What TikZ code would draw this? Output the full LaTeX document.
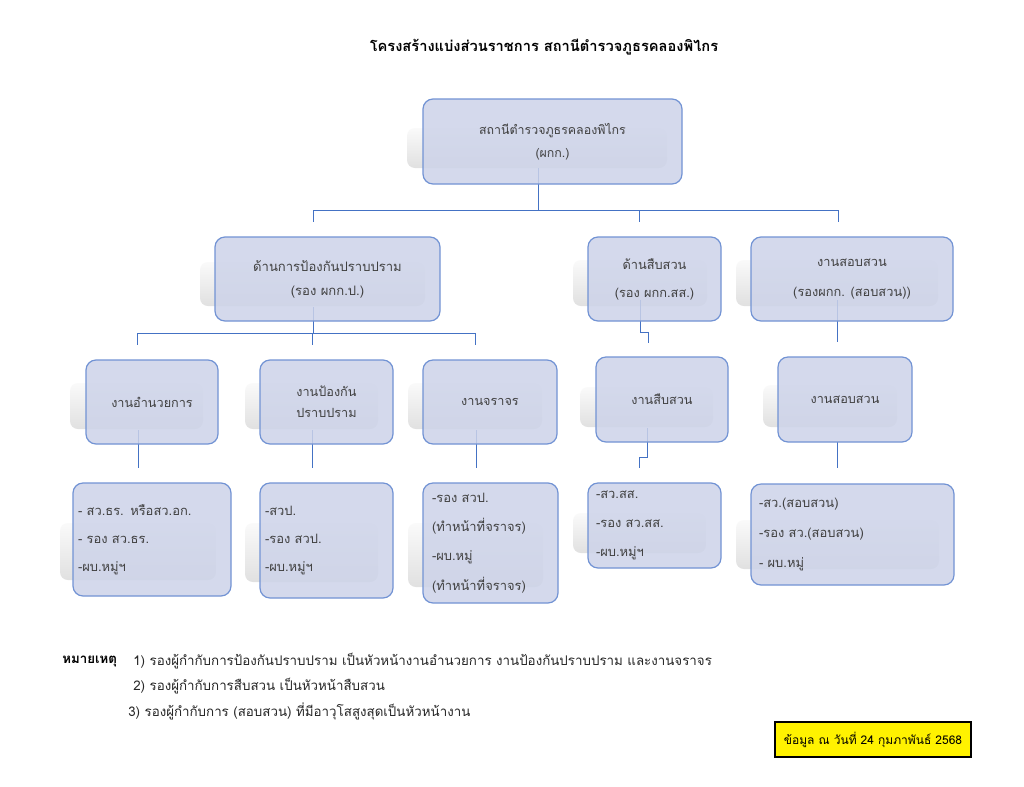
\documentclass[tikz,border=0pt]{standalone}
\usepackage{fontspec}
\setmainfont[Script=Thai]{Loma}
\begin{document}
\begin{tikzpicture}[x=0.75pt,y=-0.75pt]
\definecolor{boxfill}{RGB}{205,211,233}
\definecolor{boxline}{RGB}{114,147,212}
\definecolor{connc}{RGB}{68,114,196}
\definecolor{txt}{RGB}{64,64,64}
\tikzset{
  bx/.style 2 args={minimum width=#1*0.75pt, minimum height=#2*0.75pt},
  orgbox/.style={draw=boxline, line width=0.9pt, fill=boxfill, fill opacity=0.85, text opacity=1, draw opacity=1, rounded corners=7.5pt, text=txt, align=center, inner sep=0pt},
  lbox/.style={orgbox, align=left, inner xsep=#1*0.75pt},
  conn/.style={draw=connc, line width=0.7pt},
  shd/.style={top color=black!2, bottom color=black!12, rounded corners=6pt},
  tnorm/.style={font=\fontsize{9.5}{21}\selectfont},
}
\useasboundingbox (0,0) rectangle (1024,786);
\fill[white] (0,0) rectangle (1024,786);

% shadows
\shade[shd] (407,128) rectangle (667,168);
\shade[shd] (200,262) rectangle (425,306);
\shade[shd] (573,260) rectangle (707,306);
\shade[shd] (736,260) rectangle (938,306);
\shade[shd] (70,383) rectangle (203,429);
\shade[shd] (245,383) rectangle (378,429);
\shade[shd] (408,383) rectangle (542,429);
\shade[shd] (580,387) rectangle (713,427);
\shade[shd] (763,385) rectangle (897,427);
\shade[shd] (60,523) rectangle (216,580);
\shade[shd] (245,523) rectangle (378,582);
\shade[shd] (408,523) rectangle (543,587);
\shade[shd] (573,513) rectangle (706,553);
\shade[shd] (736,520) rectangle (939,569);

% junction coordinates
\coordinate (t0) at (538,168);  \coordinate (t1) at (538,210);
\coordinate (hL) at (313,210);  \coordinate (hR) at (838,210);
\coordinate (dA) at (313,222);  \coordinate (dB) at (639,222);  \coordinate (dC) at (838,222);
\coordinate (hB) at (639,210);
\coordinate (a0) at (313,307);  \coordinate (a1) at (313,333);
\coordinate (aL) at (137,333);  \coordinate (aR) at (475,333);  \coordinate (aM) at (312,333);
\coordinate (e1) at (137,345);  \coordinate (e2) at (312,345);  \coordinate (e3) at (475,345);
\coordinate (b0) at (640,300);  \coordinate (b1) at (640,332);  \coordinate (b2) at (648,332); \coordinate (b3) at (648,343);
\coordinate (c0) at (837,300);  \coordinate (c1) at (837,342);
\coordinate (f1) at (138,430);  \coordinate (g1) at (138,468);
\coordinate (f2) at (312,430);  \coordinate (g2) at (312,468);
\coordinate (f3) at (476,430);  \coordinate (g3) at (476,468);
\coordinate (f4) at (647,428);  \coordinate (f4b) at (647,457); \coordinate (f4c) at (639,457); \coordinate (g4) at (639,468);
\coordinate (f5) at (837,442);  \coordinate (g5) at (837,468);

% connectors
\draw[conn] (t0) -- (t1);
\draw[conn] (hL) -- (hR);
\draw[conn] (hL) -- (dA);
\draw[conn] (hB) -- (dB);
\draw[conn] (hR) -- (dC);
\draw[conn] (a0) -- (a1);
\draw[conn] (aL) -- (aR);
\draw[conn] (aL) -- (e1);
\draw[conn] (aM) -- (e2);
\draw[conn] (aR) -- (e3);
\draw[conn] (b0) -- (b1) -- (b2) -- (b3);
\draw[conn] (c0) -- (c1);
\draw[conn] (f1) -- (g1);
\draw[conn] (f2) -- (g2);
\draw[conn] (f3) -- (g3);
\draw[conn] (f4) -- (f4b) -- (f4c) -- (g4);
\draw[conn] (f5) -- (g5);

% title
\node[font=\fontsize{11}{13}\selectfont\bfseries] (title) at (544,47) {โครงสร้างแบ่งส่วนราชการ สถานีตำรวจภูธรคลองพิไกร};

% boxes
\node[orgbox, bx={259}{85}, font=\fontsize{9.3}{17}\selectfont] (top) at (552.5,141.5) {สถานีตำรวจภูธรคลองพิไกร\\(ผกก.)};
\node[orgbox, bx={225}{84}, font=\fontsize{9.8}{18}\selectfont] (A) at (327.5,279) {ด้านการป้องกันปราบปราม\\(รอง ผกก.ป.)};
\node[orgbox, bx={133}{84}, font=\fontsize{9.6}{21}\selectfont] (B) at (654.5,279) {ด้านสืบสวน\\(รอง ผกก.สส.)};
\node[orgbox, bx={202}{84}, font=\fontsize{9.6}{22}\selectfont] (C) at (852,279) {งานสอบสวน\\(รองผกก. (สอบสวน))};

\node[orgbox, bx={132}{84}, tnorm] (L3a) at (152,402) {งานอำนวยการ};
\node[orgbox, bx={133}{84}, font=\fontsize{9.5}{16}\selectfont] (L3b) at (326.5,402) {งานป้องกัน\\ปราบปราม};
\node[orgbox, bx={134}{84}, tnorm] (L3c) at (490,402) {งานจราจร};
\node[orgbox, bx={132}{85}, tnorm] (L3d) at (662,399.5) {งานสืบสวน};
\node[orgbox, bx={134}{85}, tnorm] (L3e) at (845,399.5) {งานสอบสวน};

\node[lbox=5, bx={158}{113}, text width=148*0.75pt, font=\fontsize{9.7}{21}\selectfont] (L4a) at (152,539.5) {- สว.ธร. หรือสว.อก.\\- รอง สว.ธร.\\-ผบ.หมู่ฯ};
\node[lbox=5, bx={133}{115}, text width=123*0.75pt, font=\fontsize{9.7}{21}\selectfont] (L4b) at (326.5,540.5) {-สวป.\\-รอง สวป.\\-ผบ.หมู่ฯ};
\node[lbox=9, bx={135}{120}, text width=117*0.75pt, font=\fontsize{9.7}{22}\selectfont] (L4c) at (490.5,543) {-รอง สวป.\\(ทำหน้าที่จราจร)\\-ผบ.หมู่\\(ทำหน้าที่จราจร)};
\node[lbox=8, bx={133}{85}, text width=117*0.75pt, font=\fontsize{9.7}{22}\selectfont] (L4d) at (654.5,525.5) {-สว.สส.\\-รอง สว.สส.\\-ผบ.หมู่ฯ};
\node[lbox=8, bx={203}{101}, text width=187*0.75pt, font=\fontsize{9.7}{22.5}\selectfont] (L4e) at (852.5,534.5) {-สว.(สอบสวน)\\-รอง สว.(สอบสวน)\\- ผบ.หมู่};

% notes
\node[anchor=west, inner sep=0pt, font=\fontsize{10}{12}\selectfont\bfseries] (nh) at (62,661) {หมายเหตุ};
\node[anchor=west, inner sep=0pt, font=\fontsize{10}{12}\selectfont, text=black!85] (n1) at (133,661) {1) รองผู้กำกับการป้องกันปราบปราม เป็นหัวหน้างานอำนวยการ งานป้องกันปราบปราม และงานจราจร};
\node[anchor=west, inner sep=0pt, font=\fontsize{10}{12}\selectfont, text=black!85] (n2) at (133,686) {2) รองผู้กำกับการสืบสวน เป็นหัวหน้าสืบสวน};
\node[anchor=west, inner sep=0pt, font=\fontsize{10}{12}\selectfont, text=black!85] (n3) at (128,711) {3) รองผู้กำกับการ (สอบสวน) ที่มีอาวุโสสูงสุดเป็นหัวหน้างาน};

% date box
\node[draw=black, line width=0.8pt, fill=yellow, bx={196}{35}, inner sep=0pt, font=\fontsize{9}{11}\selectfont] (date) at (873,739.5) {ข้อมูล ณ วันที่ 24 กุมภาพันธ์ 2568};
\end{tikzpicture}
\end{document}
